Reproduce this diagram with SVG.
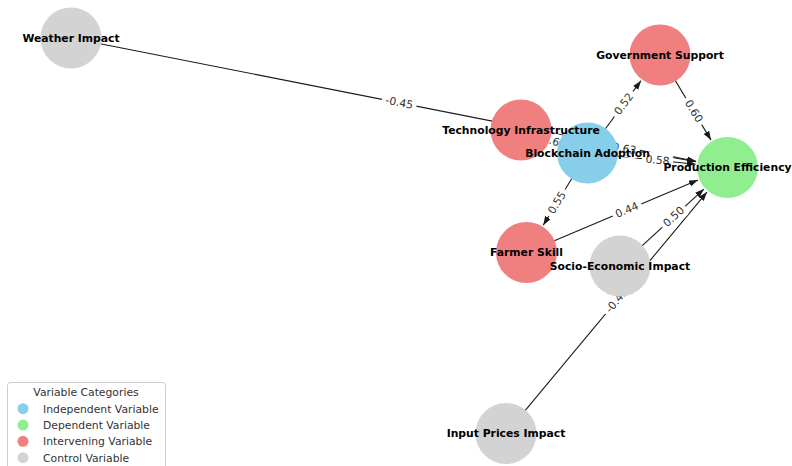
<svg xmlns="http://www.w3.org/2000/svg" width="792" height="466" viewBox="0 0 792 466">
<style>
.edge{stroke:#1a1a1a;stroke-width:1.1;fill:none;marker-end:url(#ah)}
.elbl rect{fill:#fff;stroke:#fff}
.elbl text{font-family:"DejaVu Sans",sans-serif;font-size:10.8px;fill:#333;text-anchor:middle;dominant-baseline:central}
.nlbl{font-family:"DejaVu Sans",sans-serif;font-size:10.8px;font-weight:bold;fill:#000;text-anchor:middle;dominant-baseline:central}
.ind{fill:#87CEEB}.dep{fill:#90EE90}.int{fill:#F08080}.ctl{fill:#D3D3D3}
.leg{font-family:"DejaVu Sans",sans-serif;font-size:10.8px;fill:#333}
</style>
<defs>
<marker id="ah" markerUnits="userSpaceOnUse" markerWidth="10" markerHeight="8" refX="9" refY="3.2" orient="auto">
<path d="M0,0 L9,3.2 L0,6.4 z" fill="#1a1a1a"/>
</marker>
</defs>
<rect width="792" height="466" fill="#fff"/>
<g id="connectors">
<line class="edge" x1="71" y1="38" x2="696.1" y2="161.3"/>
<line class="edge" x1="521" y1="130" x2="557.3" y2="142.5"/>
<line class="edge" x1="521" y1="130" x2="696.0" y2="161.8"/>
<line class="edge" x1="587.5" y1="153" x2="695.7" y2="164.2"/>
<line class="edge" x1="587.5" y1="153" x2="641.0" y2="80.7"/>
<line class="edge" x1="660" y1="55" x2="711.0" y2="140.1"/>
<line class="edge" x1="587.5" y1="153" x2="543.2" y2="225.2"/>
<line class="edge" x1="526.5" y1="252.5" x2="698.0" y2="180.0"/>
<line class="edge" x1="620" y1="266" x2="703.9" y2="189.1"/>
<line class="edge" x1="506" y1="433.5" x2="707.0" y2="192.1"/>
</g>
<g id="edge-labels">
<g class="elbl" transform="translate(399.25,102.75) rotate(11.16)"><rect x="-17" y="-7.5" width="34" height="15" rx="4"/><text>-0.45</text></g>
<g class="elbl" transform="translate(554.25,141.5) rotate(19.08)"><rect x="-15" y="-7.5" width="30" height="15" rx="4"/><text>0.65</text></g>
<g class="elbl" transform="translate(624.25,148.75) rotate(10.29)"><rect x="-15" y="-7.5" width="30" height="15" rx="4"/><text>0.63</text></g>
<g class="elbl" transform="translate(657.5,160.25) rotate(5.91)"><rect x="-15" y="-7.5" width="30" height="15" rx="4"/><text>0.58</text></g>
<g class="elbl" transform="translate(623.75,104) rotate(-53.5)"><rect x="-15" y="-7.5" width="30" height="15" rx="4"/><text>0.52</text></g>
<g class="elbl" transform="translate(693.75,111.25) rotate(59.04)"><rect x="-15" y="-7.5" width="30" height="15" rx="4"/><text>0.60</text></g>
<g class="elbl" transform="translate(557,202.75) rotate(-58.5)"><rect x="-15" y="-7.5" width="30" height="15" rx="4"/><text>0.55</text></g>
<g class="elbl" transform="translate(627,210) rotate(-22.9)"><rect x="-15" y="-7.5" width="30" height="15" rx="4"/><text>0.44</text></g>
<g class="elbl" transform="translate(673.75,216.75) rotate(-42.5)"><rect x="-15" y="-7.5" width="30" height="15" rx="4"/><text>0.50</text></g>
<g class="elbl" transform="translate(616.75,300.5) rotate(-50.2)"><rect x="-17" y="-7.5" width="34" height="15" rx="4"/><text>-0.42</text></g>
</g>
<g id="nodes">
<g id="node-weather"><circle class="ctl" cx="71" cy="38" r="30.5"/></g>
<g id="node-government"><circle class="int" cx="660" cy="55" r="30.5"/></g>
<g id="node-technology"><circle class="int" cx="521" cy="130" r="30.5"/></g>
<g id="node-blockchain"><circle class="ind" cx="587.5" cy="153" r="30.5"/></g>
<g id="node-production"><circle class="dep" cx="727.5" cy="167.5" r="30.5"/></g>
<g id="node-farmer"><circle class="int" cx="526.5" cy="252.5" r="30.5"/></g>
<g id="node-socio"><circle class="ctl" cx="620" cy="266" r="30.5"/></g>
<g id="node-input"><circle class="ctl" cx="506" cy="433.5" r="30.5"/></g>
</g>
<g id="node-labels">
<text id="label-weather" class="nlbl" x="71" y="38">Weather Impact</text>
<text id="label-government" class="nlbl" x="660" y="55">Government Support</text>
<text id="label-technology" class="nlbl" x="521" y="130">Technology Infrastructure</text>
<text id="label-blockchain" class="nlbl" x="587.5" y="153">Blockchain Adoption</text>
<text id="label-production" class="nlbl" x="727.5" y="167.5">Production Efficiency</text>
<text id="label-farmer" class="nlbl" x="526.5" y="252.5">Farmer Skill</text>
<text id="label-socio" class="nlbl" x="620" y="266">Socio-Economic Impact</text>
<text id="label-input" class="nlbl" x="506" y="433.5">Input Prices Impact</text>
</g>
<g id="legend">
<rect x="7.5" y="382.5" width="158" height="95" rx="3" fill="#fff" fill-opacity="0.8" stroke="#ccc"/>
<text class="leg" x="86" y="396" text-anchor="middle">Variable Categories</text>
<circle class="ind" cx="23" cy="408.7" r="5.5"/><text class="leg" x="43" y="412.5">Independent Variable</text>
<circle class="dep" cx="23" cy="425" r="5.5"/><text class="leg" x="43" y="428.8">Dependent Variable</text>
<circle class="int" cx="23" cy="441.3" r="5.5"/><text class="leg" x="43" y="445.1">Intervening Variable</text>
<circle class="ctl" cx="23" cy="457.7" r="5.5"/><text class="leg" x="43" y="461.5">Control Variable</text>
</g>
</svg>
